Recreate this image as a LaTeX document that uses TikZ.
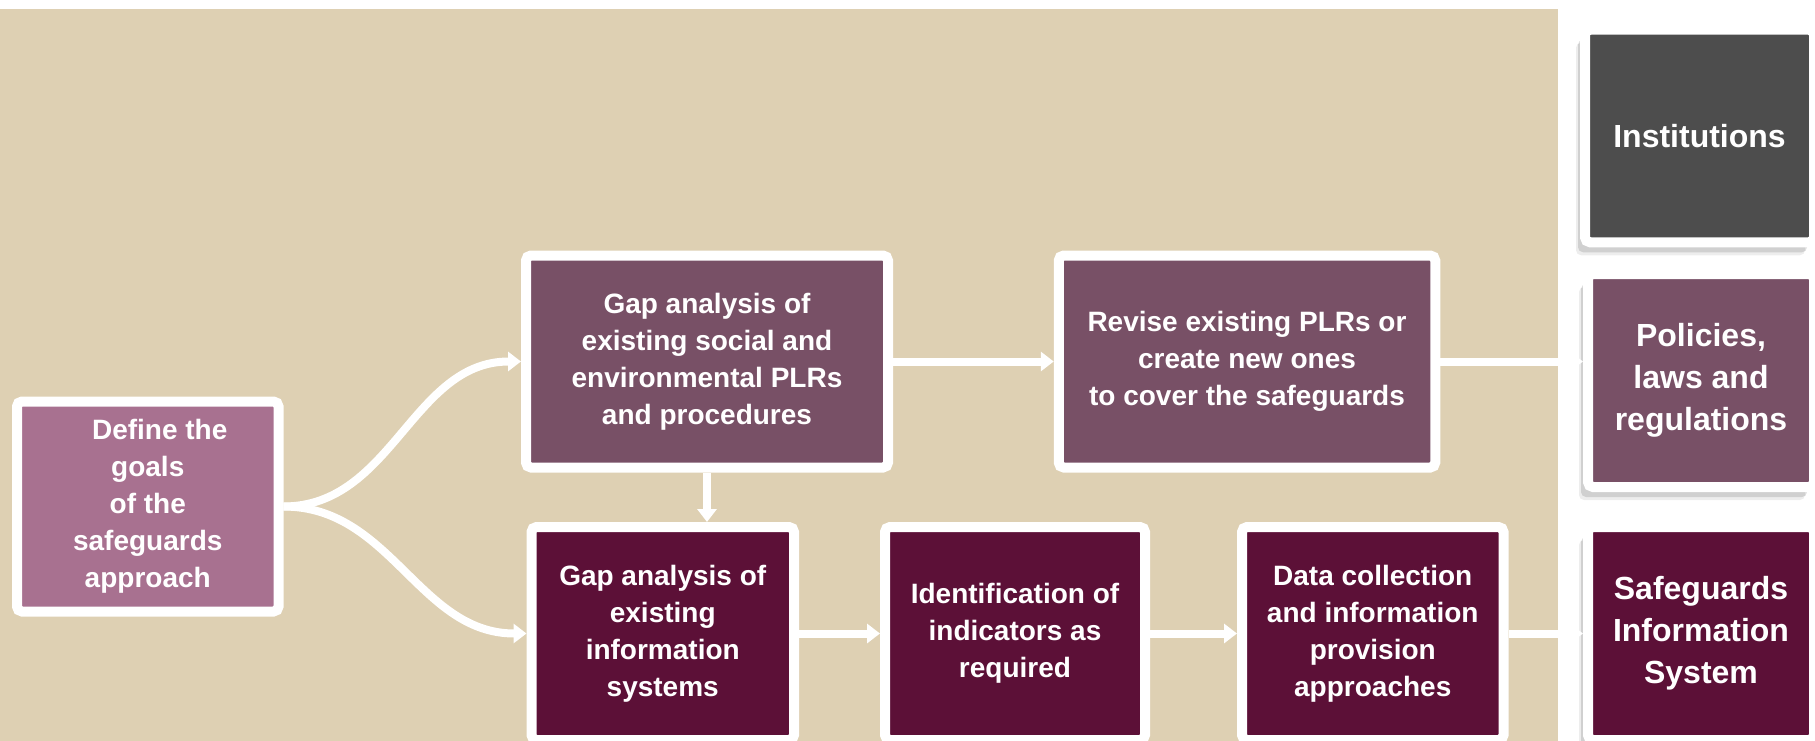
\documentclass[tikz,border=0pt]{standalone}
\usepackage{fontspec}
\setmainfont{Liberation Sans}
\usetikzlibrary{arrows.meta,shadows}
\definecolor{sand}{HTML}{DED0B3}
\definecolor{mauve}{HTML}{A87190}
\definecolor{plum}{HTML}{785066}
\definecolor{wine}{HTML}{5C1037}
\definecolor{slate}{HTML}{4D4D4D}
\tikzset{
	stepbox/.style={draw=white,line width=10pt,rounded corners=5pt,inner sep=0pt,align=center,text=white,
		font=\bfseries\fontsize{28}{37}\selectfont},
	outbox/.style={stepbox,font=\bfseries\fontsize{32}{42}\selectfont,
		drop shadow={shadow xshift=-9pt,shadow yshift=-13pt,fill=black,opacity=.07},
		drop shadow={shadow xshift=-7pt,shadow yshift=-10pt,fill=black,opacity=.12}},
	link/.style={draw=white,line width=8pt,-{Triangle[length=13pt,width=19pt]}}
}
\begin{document}
\begin{tikzpicture}[x=1pt,y=-1pt]
	\useasboundingbox (0,0) rectangle (1815,741);
	\fill[white] (0,0) rectangle (1815,741);
	\fill[sand] (0,9) rectangle (1558,741);
	% steps of the approach
	\node[stepbox,fill=mauve,minimum width=261.5pt,minimum height=210pt] (goals) at (147.75,506.5)
		{\hspace*{24pt}Define the\\goals\\of the\\safeguards\\approach};
	\node[stepbox,fill=plum,minimum width=362pt,minimum height=212pt] (plrgap) at (707,361.5)
		{Gap analysis of\\existing social and\\environmental PLRs\\and procedures};
	\node[stepbox,fill=plum,minimum width=376.5pt,minimum height=212pt] (revise) at (1247,361.5)
		{Revise existing PLRs or\\create new ones\\to cover the safeguards};
	\node[stepbox,fill=wine,minimum width=262.5pt,minimum height=213pt] (infogap) at (662.75,633.5)
		{Gap analysis of\\existing\\information\\systems};
	\node[stepbox,fill=wine,minimum width=260pt,minimum height=213pt] (ident) at (1015,633.5)
		{Identification of\\indicators as\\required};
	\node[stepbox,fill=wine,minimum width=261.5pt,minimum height=213pt] (data) at (1372.75,633.5)
		{Data collection\\and information\\provision\\approaches};
	% outcomes
	\node[outbox,fill=slate,minimum width=229pt,minimum height=212.5pt] (inst) at (1699.5,136) {Institutions};
	\node[outbox,fill=plum,minimum width=226pt,minimum height=213pt] (policies) at (1701,380.5)
		{Policies,\\laws and\\regulations};
	\node[outbox,fill=wine,minimum width=226pt,minimum height=213pt] (sis) at (1701,633.5)
		{Safeguards\\Information\\System};
	% connectors
	\draw[link] (goals.east) to[out=0,in=180] (plrgap.west);
	\draw[link] (goals.east) to[out=0,in=180] (infogap.west);
	\draw[link] (plrgap.south) -- (plrgap.south |- infogap.north);
	\draw[link] (revise.east) -- (revise.east -| policies.west);
	\foreach \a/\b in {plrgap/revise,infogap/ident,ident/data,data/sis}
		\draw[link] (\a) -- (\b);
\end{tikzpicture}
\end{document}
